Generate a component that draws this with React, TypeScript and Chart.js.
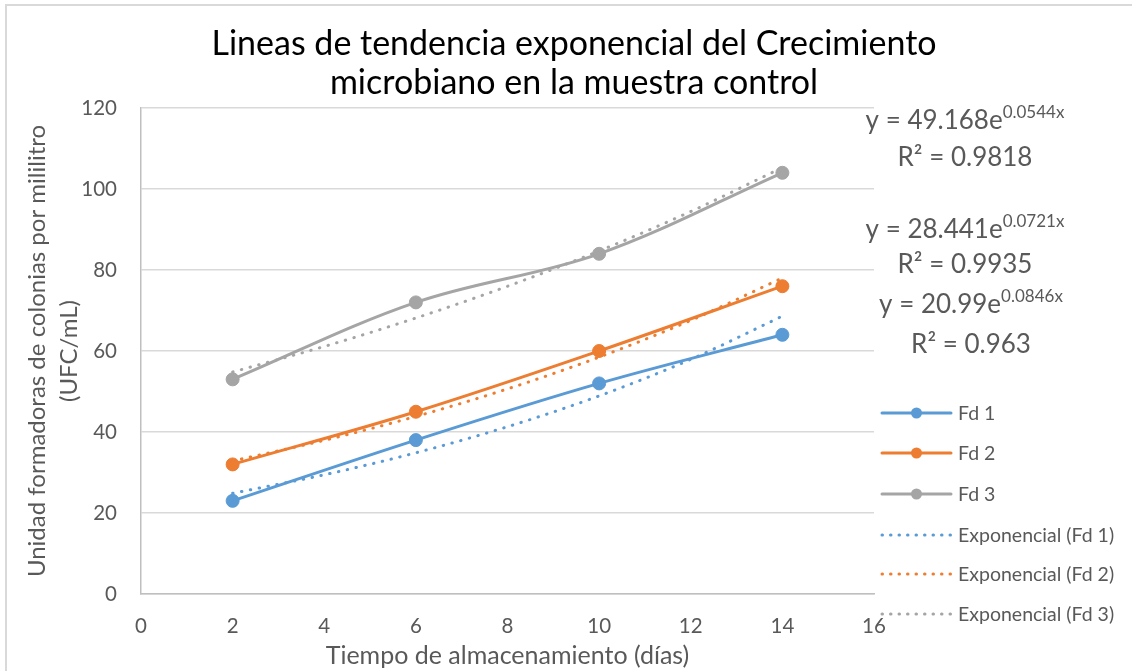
import { useEffect, useRef } from 'react';
import { Chart, registerables } from 'chart.js';

Chart.register(...registerables);

// ---- data ----
const days = [2, 6, 10, 14];
const fd1 = [23, 38, 52, 64];
const fd2 = [32, 45, 60, 76];
const fd3 = [53, 72, 84, 104];

const trendDays = [2, 4, 6, 8, 10, 12, 14];
const trendFd1 = [24.86, 29.44, 34.87, 41.3, 48.91, 57.93, 68.61];
const trendFd2 = [32.85, 37.95, 43.84, 50.64, 58.49, 67.56, 78.04];
const trendFd3 = [54.82, 61.12, 68.15, 75.98, 84.71, 94.45, 105.3];

const seriesNames = ['Fd 1', 'Fd 2', 'Fd 3'];
const trendNames = ['Exponencial (Fd 1)', 'Exponencial (Fd 2)', 'Exponencial (Fd 3)'];
const eqMain = ['y = 49.168e', 'y = 28.441e', 'y = 20.99e'];
const eqExp = ['0.0544x', '0.0721x', '0.0846x'];
const eqR2 = ['R² = 0.9818', 'R² = 0.9935', 'R² = 0.963'];

const titleLines = ['Lineas de tendencia exponencial del Crecimiento', 'microbiano en la muestra control'];
const xTitle = 'Tiempo de almacenamiento (días)';
const yTitle = ['Unidad formadoras de colonias por mililitro', '(UFC/mL)'];

const colors = ['#5B9BD5', '#ED7D31', '#A5A5A5'];
const FONT = 'Lato';
const TEXT = '#595959';

const W = 1132;
const H = 671;

const toXY = (xs: number[], ys: number[]) => xs.map((x, i) => ({ x, y: ys[i] }));

const overlay = {
  id: 'overlay',
  beforeDraw(chart: any) {
    const ctx = chart.ctx;
    ctx.save();
    ctx.fillStyle = '#fff';
    ctx.fillRect(0, 0, W, H);
    ctx.strokeStyle = '#D9D9D9';
    ctx.lineWidth = 2;
    ctx.beginPath();
    ctx.moveTo(6, H);
    ctx.lineTo(6, 5);
    ctx.lineTo(W, 5);
    ctx.stroke();
    ctx.restore();
  },
  afterDraw(chart: any) {
    const ctx = chart.ctx;
    ctx.save();
    // title
    ctx.fillStyle = '#000';
    ctx.font = `34px ${FONT}`;
    ctx.textAlign = 'center';
    ctx.textBaseline = 'alphabetic';
    ctx.fillText(titleLines[0], 574, 55);
    ctx.fillText(titleLines[1], 574, 94);

    // trend equations
    const eqCenters = [965, 965, 971];
    const eqBase = [
      [129, 166],
      [238, 273],
      [313, 353],
    ];
    ctx.fillStyle = TEXT;
    for (let i = 0; i < 3; i++) {
      ctx.font = `26px ${FONT}`;
      const mw = ctx.measureText(eqMain[i]).width;
      ctx.font = `17px ${FONT}`;
      const ew = ctx.measureText(eqExp[i]).width;
      const start = eqCenters[i] - (mw + ew) / 2;
      ctx.textAlign = 'left';
      ctx.font = `26px ${FONT}`;
      ctx.fillText(eqMain[i], start, eqBase[i][0]);
      ctx.font = `17px ${FONT}`;
      ctx.fillText(eqExp[i], start + mw, eqBase[i][0] - 11);
      ctx.font = `26px ${FONT}`;
      ctx.textAlign = 'center';
      ctx.fillText(eqR2[i], eqCenters[i], eqBase[i][1]);
    }

    // legend
    const rows = [413, 453, 494, 535, 574, 614];
    const names = [...seriesNames, ...trendNames];
    ctx.font = `19.5px ${FONT}`;
    ctx.textAlign = 'left';
    ctx.textBaseline = 'middle';
    for (let r = 0; r < 6; r++) {
      const c = colors[r % 3];
      const y = rows[r];
      ctx.strokeStyle = c;
      ctx.lineWidth = 3;
      ctx.lineCap = 'round';
      if (r < 3) {
        ctx.setLineDash([]);
        ctx.beginPath();
        ctx.moveTo(882, y);
        ctx.lineTo(951, y);
        ctx.stroke();
        ctx.fillStyle = c;
        ctx.beginPath();
        ctx.arc(916.5, y, 5.5, 0, Math.PI * 2);
        ctx.fill();
      } else {
        ctx.setLineDash([0.5, 8]);
        ctx.beginPath();
        ctx.moveTo(882, y);
        ctx.lineTo(951, y);
        ctx.stroke();
        ctx.setLineDash([]);
      }
      ctx.fillStyle = TEXT;
      ctx.fillText(names[r], 958, y + 1);
    }
    ctx.restore();
  },
};

export default function App() {
  const ref = useRef<HTMLCanvasElement | null>(null);

  useEffect(() => {
    document.body.style.margin = '0';
    if (!ref.current) return;
    const dataSeries = [fd1, fd2, fd3];
    const trendSeries = [trendFd1, trendFd2, trendFd3];
    const datasets: any[] = [];
    for (let i = 0; i < 3; i++) {
      datasets.push({
        label: seriesNames[i],
        data: toXY(days, dataSeries[i]),
        borderColor: colors[i],
        backgroundColor: colors[i],
        pointBackgroundColor: colors[i],
        pointBorderColor: colors[i],
        borderWidth: 3,
        pointRadius: 6.5,
        pointBorderWidth: 1,
        tension: 0.35,
        order: 1,
      });
    }
    for (let i = 0; i < 3; i++) {
      datasets.push({
        label: trendNames[i],
        data: toXY(trendDays, trendSeries[i]),
        borderColor: colors[i],
        borderWidth: 3,
        borderDash: [0.5, 8.5],
        borderCapStyle: 'round',
        pointRadius: 0,
        cubicInterpolationMode: 'monotone',
        order: 0,
      });
    }

    const chart = new Chart(ref.current, {
      type: 'line',
      data: { datasets },
      plugins: [overlay],
      options: {
        animation: false,
        responsive: false,
        devicePixelRatio: 1,
        layout: { padding: { top: 108, right: W - 874, left: 0, bottom: 0 } },
        plugins: {
          legend: { display: false },
          title: { display: false },
          tooltip: { enabled: false },
        },
        scales: {
          x: {
            type: 'linear',
            min: 0,
            max: 16,
            ticks: {
              stepSize: 2,
              color: TEXT,
              font: { family: FONT, size: 20.5 },
              padding: 20,
              maxRotation: 0,
            },
            grid: { display: false, drawTicks: false },
            border: { display: true, color: '#BFBFBF', width: 1.5 },
            title: {
              display: true,
              text: xTitle,
              color: TEXT,
              font: { family: FONT, size: 25 },
              padding: { top: 0, bottom: 0 },
            },
            afterFit(scale: any) {
              scale.height = H - 594;
            },
          },
          y: {
            min: 0,
            max: 120,
            ticks: {
              stepSize: 20,
              color: TEXT,
              font: { family: FONT, size: 20.5 },
              padding: 24,
            },
            grid: { color: '#D9D9D9', lineWidth: 1.5, drawTicks: false },
            border: { display: true, color: '#BFBFBF', width: 1.5 },
            title: {
              display: true,
              text: yTitle,
              color: TEXT,
              font: { family: FONT, size: 24, lineHeight: 1.33 },
              padding: { top: 21, bottom: 0 },
            },
            afterFit(scale: any) {
              scale.width = 141;
            },
          },
        },
      },
    });
    return () => chart.destroy();
  }, []);

  return (
    <div style={{ width: W, height: H }}>
      <canvas ref={ref} width={W} height={H} style={{ display: 'block', width: W, height: H }} />
    </div>
  );
}
